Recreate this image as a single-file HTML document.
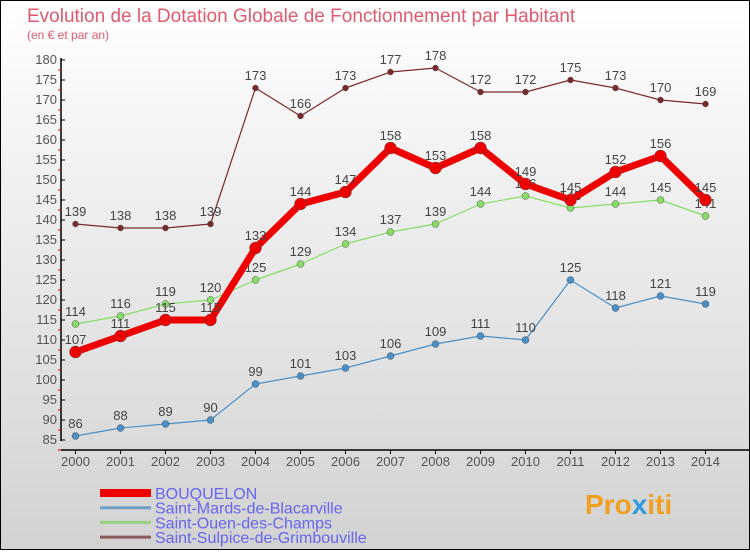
<!DOCTYPE html>
<html><head><meta charset="utf-8"><style>
body{margin:0;width:750px;height:550px;overflow:hidden;font-family:"Liberation Sans",sans-serif;}
</style></head><body>
<svg id="c" width="750" height="550" xmlns="http://www.w3.org/2000/svg" font-family="Liberation Sans, sans-serif">
<defs><linearGradient id="bg" x1="0" y1="0" x2="0" y2="1"><stop offset="0" stop-color="#ffffff"/><stop offset="1" stop-color="#d2d2d2"/></linearGradient></defs>
<rect x="0.5" y="0.5" width="749" height="549" fill="url(#bg)" stroke="#000"/>
<text x="27" y="22" font-size="19" fill="#e05a70">Evolution de la Dotation Globale de Fonctionnement par Habitant</text>
<text x="27" y="39" font-size="12" fill="#e05a70">(en € et par an)</text>
<g id="axes"></g><g id="series"></g><g id="legend"></g>
<text x="585" y="514" font-size="28" font-weight="bold" fill="#f0a020">Pro<tspan fill="#3399dd">x</tspan>iti</text>
</svg>
<script>
const years=[2000,2001,2002,2003,2004,2005,2006,2007,2008,2009,2010,2011,2012,2013,2014];
const bouquelon=[107,111,115,115,133,144,147,158,153,158,149,145,152,156,145];
const saintMards=[86,88,89,90,99,101,103,106,109,111,110,125,118,121,119];
const saintOuen=[114,116,119,120,125,129,134,137,139,144,146,143,144,145,141];
const saintSulpice=[139,138,138,139,173,166,173,177,178,172,172,175,173,170,169];
const yTicks=[85,90,95,100,105,110,115,120,125,130,135,140,145,150,155,160,165,170,175,180];
const NS="http://www.w3.org/2000/svg";
const xS=i=>75.5+i*45;
const yS=v=>440-(v-85)*4;
function mk(t,a,p){const e=document.createElementNS(NS,t);for(const k in a)e.setAttribute(k,a[k]);p.appendChild(e);return e;}
const ax=document.getElementById('axes');
let yl=mk('line',{x1:61,y1:58,x2:61,y2:441,stroke:'#000','stroke-width':1.5},ax);


yTicks.forEach(v=>{
 const y=yS(v);
 mk('line',{x1:61,y1:y,x2:65,y2:y,stroke:'#000'},ax);
 mk('line',{x1:58,y1:y+10,x2:61,y2:y+10,stroke:'#e00'},ax);
 const t=mk('text',{x:57,y:y+4,'font-size':13,'text-anchor':'end',fill:'#555'},ax);
 t.textContent=v;
 
 
});
let xl=mk('line',{x1:61,y1:450,x2:750,y2:450,stroke:'#000','stroke-width':1.5},ax);


years.forEach((yr,i)=>{
 const x=xS(i);
 mk('line',{x1:x,y1:450,x2:x,y2:454,stroke:'#000'},ax);
 const t=mk('text',{x:x,y:466,'font-size':13,'text-anchor':'middle',fill:'#555'},ax);
 t.textContent=yr;
 
 
});
const sg=document.getElementById('series');
function series(data,color,w,r,name){
 const g=mk('g',{},sg);
 
 
 mk('polyline',{points:data.map((v,i)=>xS(i)+','+yS(v)).join(' '),fill:'none',stroke:color,'stroke-width':w,'stroke-linejoin':'round'},g);
 data.forEach((v,i)=>{
  const c=mk('circle',{cx:xS(i),cy:yS(v),r:r,fill:color,stroke:'#555','stroke-width':0.5},g);
  
  
  const t=mk('text',{x:xS(i),y:yS(v)-8,'font-size':13,'text-anchor':'middle',fill:'#444'},g);
  t.textContent=v;
  
  
 });
}
series(saintSulpice,'#7a2a2a',1.2,3,'saint-sulpice-series');
series(saintOuen,'#88dd66',1.2,3.5,'saint-ouen-series');
series(saintMards,'#4a90c8',1.2,3.5,'saint-mards-series');
series(bouquelon,'#ee0000',7,6,'bouquelon-series');
const lg=document.getElementById('legend');
const names=['BOUQUELON','Saint-Mards-de-Blacarville','Saint-Ouen-des-Champs','Saint-Sulpice-de-Grimbouville'];
const cols=['#ee0000','#6fa0c8','#99d080','#8a5a5a'];
names.forEach((n,i)=>{
 const y=493+i*14.7;
 const l=mk('line',{x1:100,y1:y,x2:151,y2:y,stroke:cols[i],'stroke-width':i==0?8:3},lg);
 
 
 const t=mk('text',{x:155,y:y+6,'font-size':16,fill:'#6666ee'},lg);
 t.textContent=n;
 
 
});
</script>
</body></html>
